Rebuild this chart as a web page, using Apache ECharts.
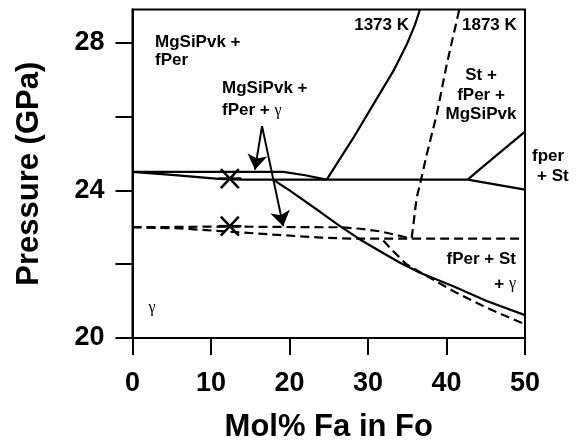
<!DOCTYPE html>
<html><head><meta charset="utf-8">
<script src="https://cdn.jsdelivr.net/npm/echarts@6/dist/echarts.min.js"></script>
<style>html,body{margin:0;padding:0;background:#fff}#c{width:580px;height:443px}</style>
</head><body><div id="c"></div>
<script>
// ---- data (x: Mol% Fa in Fo, y: Pressure GPa) ----
const xTickValues = [0, 10, 20, 30, 40, 50];
const yTickValues = [20, 22, 24, 26, 28];
const yLabelValues = [20, 24, 28];

const upperSolid = [[0,24.5],[19.2,24.5],[22,24.41],[24.7,24.29]];
const lowerSolid = [[0,24.5],[5,24.42],[11,24.31],[14,24.29],[24.7,24.29],[42.7,24.29]];
const branchUp = [[42.7,24.29],[44,24.53],[50,25.59]];
const branchDown = [[42.7,24.29],[50,24.02]];
const line1373 = [[24.74,24.29],[28.13,25.42],[30.68,26.33],[33.22,27.23],[34.93,27.95],[35.99,28.49],[36.62,28.9]];
const line1873 = [[35.57,22.71],[36.2,23.8],[36.62,24.16],[37.48,24.97],[38.75,26.05],[40.03,27.41],[41.63,28.9]];
const upperDashed = [[0,23.0],[12,23.02],[24,23.0],[26.4,23.0],[29,22.96],[31.5,22.89],[33.65,22.79],[35.57,22.69]];
const lowerDashed = [[0,23.0],[6,22.97],[12.4,22.88],[18,22.8],[24,22.72],[28,22.69],[50,22.69]];
const diagSolid = [[17.9,24.29],[20,24.0],[23.89,23.42],[26.43,23.03],[28.98,22.67],[31.53,22.35],[34.08,22.04],[36.62,21.77],[40.87,21.4],[45.12,21.0],[50,20.62]];
const diagDashed = [[31.95,22.64],[33.22,22.35],[34.93,21.99],[37.9,21.63],[40.87,21.27],[45.12,20.82],[50,20.37]];
const asterisks = [[12.4,24.32],[12.4,23.03]];
const arrows = [
  [[16.5,25.74],[15.6,24.56]],
  [[16.5,25.74],[19.2,23.03]]
];

const FONT = '"Liberation Sans", Arial, Helvetica, sans-serif';
const SERIF = '"Liberation Serif", "DejaVu Serif", serif';

function solid(data){ return {type:'line', data, symbol:'none', silent:true, lineStyle:{color:'#000', width:2.2}, z:3}; }
function dashed(data){ return {type:'line', data, symbol:'none', silent:true, lineStyle:{color:'#000', width:2.2, type:[9,5]}, z:3}; }

function txt(x, y, text, align, lh, vAlign){
  return {
    type:'text', x, y, silent:true, z:10,
    style:{
      text, align: align || 'left', verticalAlign: vAlign || 'top',
      fill:'#000',
      rich:{
        b:{font:'bold 17px ' + FONT, fill:'#000', lineHeight: lh || 20},
        g:{font:'16px ' + SERIF, fill:'#000', lineHeight: lh || 20}
      }
    }
  };
}

const chart = echarts.init(document.getElementById('c'), null, {renderer:'canvas'});
chart.setOption({
  animation:false,
  backgroundColor:'#fff',
  grid:{left:132.5, right:55, top:9.5, bottom:105, outerBoundsMode:'none', containLabel:false,
        show:true, borderColor:'#000', borderWidth:2, backgroundColor:'transparent'},
  xAxis:{
    type:'value', min:0, max:50, interval:10,
    name:'Mol% Fa in Fo', nameLocation:'middle', nameGap:74,
    nameTextStyle:{fontFamily:FONT, fontWeight:'bold', fontSize:31, color:'#000'},
    axisLine:{show:true, lineStyle:{color:'#000', width:2}},
    axisTick:{show:true, inside:false, length:17, lineStyle:{color:'#000', width:2}, customValues:xTickValues},
    axisLabel:{margin:32, fontFamily:FONT, fontWeight:'bold', fontSize:27, color:'#000', customValues:xTickValues},
    splitLine:{show:false}
  },
  yAxis:{
    type:'value', min:20, max:28.9,
    name:'Pressure (GPa)', nameLocation:'middle', nameGap:88,
    nameTextStyle:{fontFamily:FONT, fontWeight:'bold', fontSize:31, color:'#000'},
    axisLine:{show:true, lineStyle:{color:'#000', width:2}},
    axisTick:{show:true, inside:false, length:17, lineStyle:{color:'#000', width:2}, customValues:yTickValues},
    axisLabel:{margin:28, fontFamily:FONT, fontWeight:'bold', fontSize:27, color:'#000', customValues:yLabelValues},
    splitLine:{show:false}
  },
  series:[
    solid(upperSolid), solid(lowerSolid), solid(branchUp), solid(branchDown),
    solid(line1373), dashed(line1873), dashed(upperDashed), dashed(lowerDashed),
    solid(diagSolid), dashed(diagDashed),
    {
      type:'lines', coordinateSystem:'cartesian2d', silent:true, z:4,
      symbol:['none','arrow'], symbolSize:15,
      lineStyle:{color:'#000', width:2, opacity:1, curveness:0},
      itemStyle:{color:'#000'},
      data: arrows.map(a => ({coords:a}))
    },
    {
      type:'custom', silent:true, z:5,
      renderItem:(params, api) => {
        const c = api.coord([api.value(0), api.value(1)]);
        const segs = [[11.5,0],[9,9.5],[9,-9.5]];
        return {type:'group', children: segs.map(s => ({
          type:'line',
          shape:{x1:c[0]-s[0], y1:c[1]-s[1], x2:c[0]+s[0], y2:c[1]+s[1]},
          style:{stroke:'#000', lineWidth:2.5}
        }))};
      },
      data: asterisks
    }
  ],
  graphic:[
    txt(155, 33, '{b|MgSiPvk +}\n{b|fPer}', 'left', 18.5),
    txt(222, 77.5, '{b|MgSiPvk +}\n{b|fPer + }{g|γ}', 'left', 22),
    txt(409, 25, '{b|1373 K}', 'right', 20, 'middle'),
    txt(462, 25, '{b|1873 K}', 'left', 20, 'middle'),
    txt(481, 66, '{b|St +}\n{b|fPer +}\n{b|MgSiPvk}', 'center', 19.5),
    txt(532, 156, '{b|fper}', 'left', 20, 'middle'),
    txt(537, 176, '{b|+ St}', 'left', 20, 'middle'),
    txt(516, 259, '{b|fPer + St}', 'right', 20, 'middle'),
    txt(516, 284, '{b|+ }{g|γ}', 'right', 20, 'middle'),
    txt(152, 308, '{g|γ}', 'center', 20, 'middle')
  ]
});
</script>
</body></html>
